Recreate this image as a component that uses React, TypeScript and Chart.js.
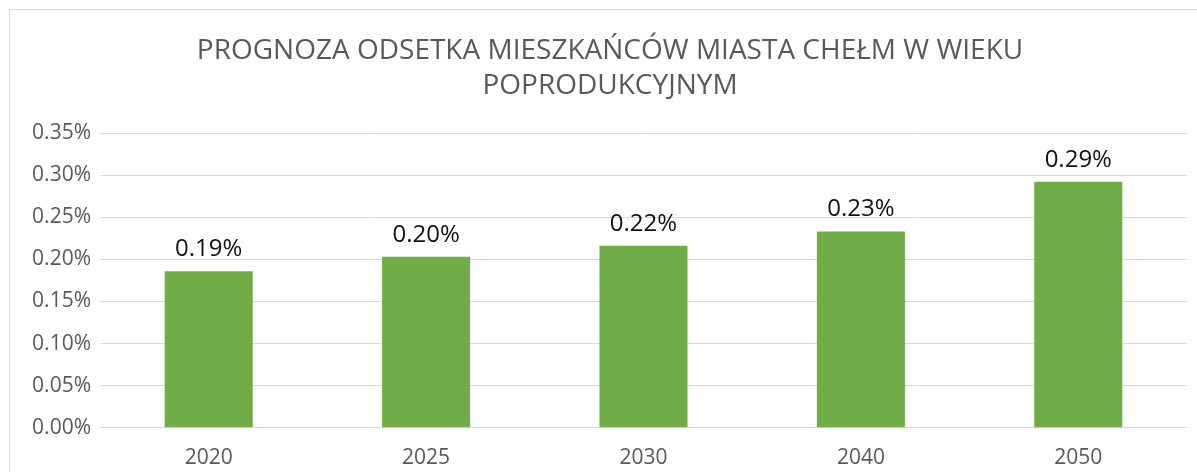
import React, { useEffect, useRef } from "react";
import { Chart, registerables } from "chart.js";

Chart.register(...registerables);

const categories = ["2020", "2025", "2030", "2040", "2050"];
const values = [0.186, 0.203, 0.216, 0.233, 0.292];
const yTicks = [0, 0.05, 0.1, 0.15, 0.2, 0.25, 0.3, 0.35];
const titleLines = ["PROGNOZA ODSETKA MIESZKAŃCÓW MIASTA CHEŁM W WIEKU", "POPRODUKCYJNYM"];

const FONT = "'Open Sans', sans-serif";

const dataLabelPlugin = {
  id: "dataLabels",
  afterDatasetsDraw(chart: any) {
    const ctx = chart.ctx;
    const meta = chart.getDatasetMeta(0);
    ctx.save();
    ctx.font = `24px ${FONT}`;
    ctx.fillStyle = "#111111";
    ctx.textAlign = "center";
    ctx.textBaseline = "middle";
    meta.data.forEach((el: any, i: number) => {
      const v = chart.data.datasets[0].data[i] as number;
      ctx.fillText(v.toFixed(2) + "%", el.x, el.y - 22);
    });
    ctx.restore();
  },
};

export default function App() {
  const ref = useRef<HTMLCanvasElement | null>(null);
  useEffect(() => {
    if (!ref.current) return;
    const chart = new Chart(ref.current, {
      type: "bar",
      data: {
        labels: categories,
        datasets: [
          {
            data: values,
            backgroundColor: "#70AD47",
            barPercentage: 0.81,
            categoryPercentage: 0.5,
          },
        ],
      },
      options: {
        responsive: false,
        animation: false,
        layout: { padding: { left: 23, right: 23, top: 0, bottom: 4 } },
        plugins: {
          legend: { display: false },
          tooltip: { enabled: false },
          title: {
            display: true,
            text: titleLines,
            color: "#595959",
            font: { family: FONT, size: 28, weight: "normal", lineHeight: 1.25 },
            padding: { top: 24, bottom: 29 },
          },
        },
        scales: {
          x: {
            grid: { display: false },
            border: { display: false },
            ticks: {
              color: "#595959",
              font: { family: FONT, size: 21 },
              padding: 10,
            },
          },
          y: {
            min: 0,
            max: 0.35,
            afterBuildTicks: (scale: any) => {
              scale.ticks = yTicks.map((v) => ({ value: v }));
            },
            afterFit: (scale: any) => {
              scale.width = 67;
            },
            grid: { color: "#d9d9d9", lineWidth: 1, drawTicks: false },
            border: { display: false },
            ticks: {
              color: "#595959",
              font: { family: FONT, size: 21 },
              padding: 9,
              callback: (v: any) => Number(v).toFixed(2) + "%",
            },
          },
        },
      },
      plugins: [dataLabelPlugin],
    });
    return () => chart.destroy();
  }, []);

  return (
    <div
      style={{
        position: "fixed",
        left: 0,
        top: 0,
        width: 1197,
        height: 472,
        overflow: "hidden",
        background: "#ffffff",
      }}
    >
      <div
        style={{
          position: "absolute",
          left: 9,
          top: 9,
          width: 1200,
          height: 475,
          border: "1px solid #d9d9d9",
          background: "#ffffff",
        }}
      >
        <canvas ref={ref} width={1200} height={475} style={{ display: "block" }} />
      </div>
    </div>
  );
}
